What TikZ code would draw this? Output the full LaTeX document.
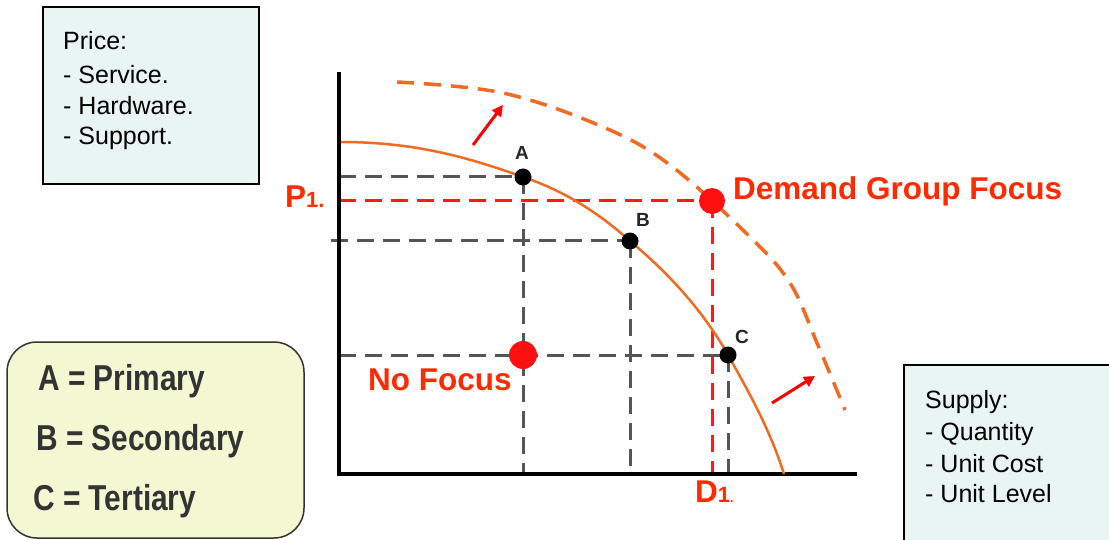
\documentclass[tikz,border=0pt]{standalone}
\usepackage{fontspec}
\setmainfont{Liberation Sans}
\usetikzlibrary{arrows.meta}
\definecolor{boxblue}{HTML}{E9F5F3}
\definecolor{boxyellow}{HTML}{F3F8D2}
\definecolor{darktext}{HTML}{333333}
\definecolor{curveorange}{HTML}{F26A21}
\definecolor{redtext}{HTML}{FF2A00}
\definecolor{dotred}{HTML}{FF1010}
\definecolor{dashgray}{HTML}{555555}
\definecolor{dashred}{HTML}{FF1A1A}
\tikzset{
  infotext/.style={anchor=base west, inner sep=0pt, font=\fontsize{25}{25}\selectfont},
  legtext/.style={anchor=base west, inner sep=0pt, text=darktext, font=\fontsize{36}{36}\selectfont\bfseries},
  redlabel/.style={anchor=base west, inner sep=0pt, text=redtext, font=\fontsize{31.5}{31.5}\selectfont\bfseries},
  blackdot/.style={circle, fill=black, minimum size=17pt, inner sep=0pt},
  reddot/.style={circle, fill=dotred, inner sep=0pt},
  grayd/.style={draw=dashgray, line width=3pt, dash pattern=on 17pt off 9pt},
  redd/.style={draw=dashred, line width=3pt, dash pattern=on 17pt off 9pt},
  axisline/.style={draw=black, line width=4pt},
  ptlabel/.style={inner sep=0pt, text=black!85, font=\fontsize{19}{19}\selectfont\bfseries},
  shiftarrow/.style={draw=red, line width=3pt, -{Triangle[length=11pt,width=11pt]}}
}
\begin{document}
\begin{tikzpicture}[x=1pt,y=-1pt]
\useasboundingbox (0,0) rectangle (1109,540);
% Price box
\draw[fill=boxblue, line width=1.5pt] (43,7) rectangle (259,184);
\node[infotext] (pr) at (63,50) {Price:};
\node[infotext] (pr1) at (63,84) {- Service.};
\node[infotext] (pr2) at (63,115) {- Hardware.};
\node[infotext] (pr3) at (63,145) {- Support.};
% Supply box
\draw[fill=boxblue, line width=1.5pt] (904,365) rectangle (1115,548);
\node[infotext] (su) at (925,408) {Supply:};
\node[infotext] (su1) at (925,440) {- Quantity};
\node[infotext] (su2) at (925,472) {- Unit Cost};
\node[infotext] (su3) at (925,502) {- Unit Level};
% Legend box
\draw[fill=boxyellow, draw=darktext, line width=1.5pt, rounded corners=30pt] (7,342) rectangle (304,538);
\node[legtext] (la) at (38,390) {\scalebox{0.83}[1]{A = Primary}};
\node[legtext] (lb) at (36,450) {\scalebox{0.83}[1]{B = Secondary}};
\node[legtext] (lc) at (33,510) {\scalebox{0.83}[1]{C = Tertiary}};
% axes
\coordinate (O) at (339,474);
\coordinate (ytop) at (339,72);
\coordinate (xend) at (857,474);
% points
\coordinate (Ac) at (523,177);
\coordinate (Bc) at (630,241);
\coordinate (Cc) at (728,355);
\coordinate (Dc) at (712,201);
\coordinate (Nc) at (523,355);
% gray dashed guides
\draw[grayd] (O |- Ac) -- (Ac);
\draw[grayd] (Ac) -- (Ac |- O);
\draw[grayd] (331,241) -- (Bc);
\draw[grayd] (Bc) -- (Bc |- O);
\draw[grayd] (O |- Cc) -- (Cc);
\draw[grayd] (Cc) -- (Cc |- O);
% red dashed guides
\draw[redd] (O |- Dc) -- (Dc);
\draw[redd] (Dc) -- (Dc |- O);
% axes
\draw[axisline] (ytop) -- (O) -- (xend);
% curves
\draw[curveorange, line width=2.5pt] (341,142) .. controls (420,142) and (475,160) .. (Ac)
  .. controls (565,191) and (600,214) .. (Bc)
  .. controls (672,276) and (705,314) .. (Cc)
  .. controls (750,394) and (770,430) .. (784,474);
\draw[curveorange, line width=3.5pt, dash pattern=on 17pt off 10pt] plot[smooth, tension=0.6] coordinates {(397,82) (503,93) (603,127) (670,165) (748,235) (790,283) (817,343) (845,410)};
% arrows
\coordinate (a1s) at (473,145);
\coordinate (a1e) at (503,105);
\coordinate (a2s) at (772,403);
\coordinate (a2e) at (815,376);
\draw[shiftarrow] (a1s) -- (a1e);
\draw[shiftarrow] (a2s) -- (a2e);
% dots
\node[blackdot] (A) at (Ac) {};
\node[blackdot] (B) at (Bc) {};
\node[blackdot] (C) at (Cc) {};
\node[reddot, minimum size=26pt] (D) at (Dc) {};
\node[reddot, minimum size=28pt] (N) at (Nc) {};
\node[ptlabel] (Al) at (522,153) {A};
\node[ptlabel] (Bl) at (643,220) {B};
\node[ptlabel] (Cl) at (742,337) {C};
% red labels
\node[redlabel] (dgf) at (733,200) {Demand Group Focus};
\node[redlabel] (nf) at (368,390) {No Focus};
\node[redlabel] (p1) at (285,208) {P{\fontsize{22}{22}\selectfont 1.}};
\node[redlabel] (d1) at (695,502) {D{\fontsize{22}{22}\selectfont 1}{\fontsize{12}{12}\selectfont .}};
\end{tikzpicture}
\end{document}
